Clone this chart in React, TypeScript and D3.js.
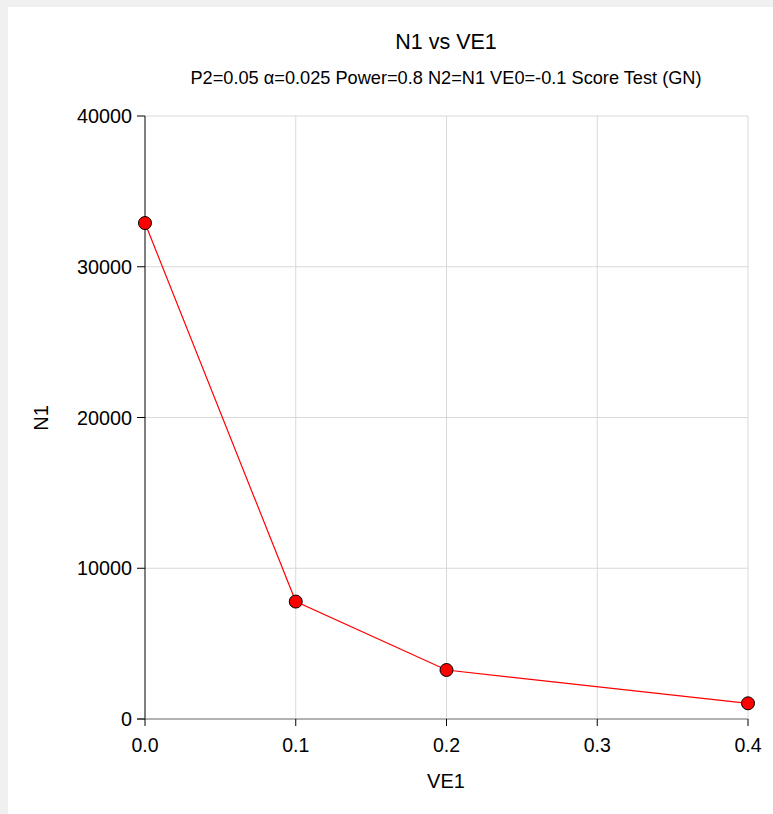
import React from "react";
import * as d3 from "d3";

const ve1 = [0.0, 0.1, 0.2, 0.4];
const n1 = [32900, 7790, 3250, 1040];
const xTicks = [0.0, 0.1, 0.2, 0.3, 0.4];
const yTicks = [0, 10000, 20000, 30000, 40000];
const title = "N1 vs VE1";
const subtitle = "P2=0.05 α=0.025 Power=0.8 N2=N1 VE0=-0.1 Score Test (GN)";

export default function App() {
  const W = 773, H = 814;
  const x = d3.scaleLinear().domain([0, 0.4]).range([145, 748]);
  const y = d3.scaleLinear().domain([0, 40000]).range([719, 116]);
  const pts = ve1.map((v, i) => [x(v), y(n1[i])] as [number, number]);
  const line = d3.line()(pts) || "";
  const font = "'Liberation Sans', Arial, sans-serif";
  return (
    <svg width={W} height={H} style={{ position: "absolute", left: 0, top: 0, fontFamily: font }}>
      <rect x={0} y={0} width={W} height={H} fill="#f0f0f0" />
      <rect x={8} y={7} width={W - 8} height={H - 7} fill="#ffffff" />
      {xTicks.slice(1).map((t) => (
        <line key={"gx" + t} x1={x(t)} x2={x(t)} y1={y(40000)} y2={y(0)} stroke="#d9d9d9" strokeWidth={1} />
      ))}
      {yTicks.slice(1).map((t) => (
        <line key={"gy" + t} x1={x(0)} x2={x(0.4)} y1={y(t)} y2={y(t)} stroke="#d9d9d9" strokeWidth={1} />
      ))}
      <line x1={x(0)} x2={x(0)} y1={y(40000)} y2={y(0)} stroke="#000" strokeWidth={1} />
      <line x1={x(0) - 8} x2={x(0.4)} y1={y(0)} y2={y(0)} stroke="#666" strokeWidth={1.2} />
      {yTicks.map((t) => (
        <g key={"yt" + t}>
          <line x1={x(0) - 8} x2={x(0)} y1={y(t)} y2={y(t)} stroke="#000" />
          <text x={x(0) - 13} y={y(t)} dy="0.36em" textAnchor="end" fontSize={19.8} fill="#000">{t}</text>
        </g>
      ))}
      {xTicks.map((t) => (
        <g key={"xt" + t}>
          <line x1={x(t)} x2={x(t)} y1={y(0)} y2={y(0) + 7} stroke="#000" />
          <text x={x(t)} y={y(0) + 33} textAnchor="middle" fontSize={19.5} fill="#000">{t.toFixed(1)}</text>
        </g>
      ))}
      <text x={446} y={49} textAnchor="middle" fontSize={21.5} fill="#000">{title}</text>
      <text x={446} y={84} textAnchor="middle" fontSize={18.2} fill="#000">{subtitle}</text>
      <text x={446} y={788} textAnchor="middle" fontSize={20} fill="#000">VE1</text>
      <text transform={`translate(48,418) rotate(-90)`} textAnchor="middle" fontSize={20} fill="#000">N1</text>
      <path d={line} fill="none" stroke="#ff0000" strokeWidth={1.2} />
      {pts.map((p, i) => (
        <circle key={"c" + i} cx={p[0]} cy={p[1]} r={6.5} fill="#ff0000" stroke="#000" strokeWidth={1} />
      ))}
    </svg>
  );
}
